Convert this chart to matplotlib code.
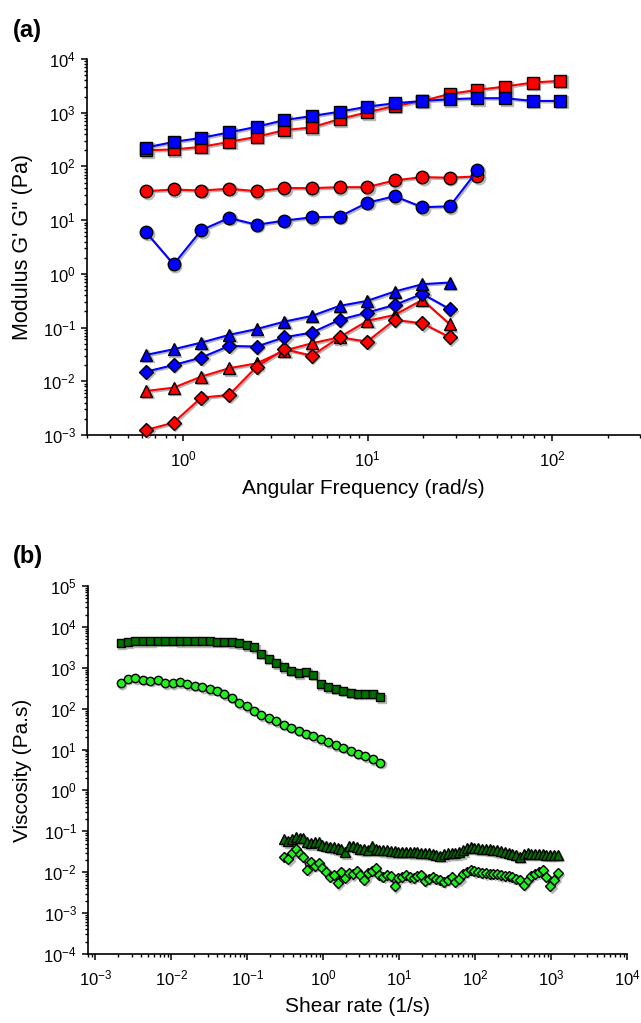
import matplotlib
matplotlib.use("Agg")
import matplotlib.pyplot as plt
import matplotlib.ticker as mticker
import matplotlib.transforms as mtrans

plt.rcParams['font.family'] = ['Liberation Sans', 'DejaVu Sans']
plt.rcParams['mathtext.fontset'] = 'custom'
plt.rcParams['mathtext.rm'] = 'Liberation Sans'

# ---------------- Panel (a) data ----------------
freq = [0.628, 0.885, 1.25, 1.77, 2.5, 3.53, 4.98, 7.03, 9.93, 14.0, 19.8, 27.9, 39.4, 55.7, 78.6, 111.0]

red_sq = [200, 207, 231, 286, 356, 474, 533, 762, 1016, 1334, 1656, 2239, 2661, 3070, 3648, 3926]
blue_sq = [225, 286, 340, 430, 547, 730, 867, 1045, 1294, 1500, 1656, 1782, 1862, 1862, 1656, 1656]
red_ci = [34.6, 37.2, 35.6, 38.4, 34.6, 39.5, 39.5, 41.1, 41.1, 55.0, 63.2, 61.7, 65.3]
blue_ci = [5.9, 1.5, 6.5, 11.0, 8.2, 9.8, 11.3, 11.6, 21.0, 27.9, 17.4, 18.1, 84.5]
blue_tri = [0.031, 0.0395, 0.0525, 0.073, 0.094, 0.129, 0.165, 0.253, 0.314, 0.469, 0.642, 0.69]
blue_dia = [0.0151, 0.0201, 0.0276, 0.0455, 0.0443, 0.066, 0.0807, 0.139, 0.19, 0.264, 0.424, 0.22]
red_tri = [0.0066, 0.0076, 0.0122, 0.0175, 0.0216, 0.0373, 0.051, 0.066, 0.133, 0.172, 0.328, 0.115]
red_dia = [0.00124, 0.0017, 0.00496, 0.00556, 0.0188, 0.0395, 0.030, 0.066, 0.0548, 0.139, 0.12, 0.066]

# ---------------- Panel (b) data ----------------
rate_low = [0.00215, 0.00269, 0.00337, 0.00422, 0.00528, 0.00661, 0.00828, 0.01038, 0.0130, 0.01626,
            0.0204, 0.0255, 0.0319, 0.0400, 0.0501, 0.0627, 0.0785, 0.0982, 0.123, 0.154,
            0.193, 0.242, 0.303, 0.379, 0.474, 0.594, 0.743, 0.931, 1.167, 1.459,
            1.828, 2.291, 2.864, 3.589, 4.498, 5.636]
visc_sq = [3970, 4200, 4446, 4446, 4446, 4600, 4600, 4600, 4446, 4446,
           4446, 4446, 4446, 4276, 4276, 4200, 3970, 3606, 3170, 2175,
           1671, 1288, 1028, 851, 733, 789, 667, 394, 333, 303,
           271, 247, 229, 229, 229, 190]
visc_ci = [417, 532, 552, 503, 484, 503, 417, 417, 441, 394,
           366, 333, 298, 276, 225, 186, 136, 116, 88, 70,
           58, 49, 40.7, 33.9, 28.8, 24.5, 20.9, 17.8, 15.1, 12.9,
           11.0, 9.3, 7.9, 6.8, 5.75, 4.7]

rate_high = [0.309, 0.347, 0.389, 0.437, 0.490, 0.550, 0.617, 0.692, 0.776, 0.871,
             0.977, 1.096, 1.23, 1.38, 1.549, 1.738, 1.95, 2.188, 2.455, 2.754,
             3.09, 3.467, 3.89, 4.365, 4.898, 5.495, 6.166, 6.918, 7.762, 8.71,
             9.772, 10.96, 12.3, 13.8, 15.49, 17.38, 19.5, 21.88, 24.55, 27.54,
             30.9, 34.67, 38.9, 43.65, 48.98, 54.95, 61.66, 69.18, 77.62, 87.1,
             97.72, 109.6, 123.0, 138.0, 154.9, 173.8, 195.0, 218.8, 245.5, 275.4,
             309.0, 346.7, 389.0, 436.5, 489.8, 549.5, 616.6, 691.8, 776.2, 871.0,
             977.2, 1096.0, 1230.0]
visc_tri = [0.064, 0.058, 0.064, 0.071, 0.070, 0.067, 0.054, 0.051, 0.054, 0.055,
            0.047, 0.044, 0.042, 0.041, 0.0385, 0.036, 0.031, 0.044, 0.044, 0.041,
            0.037, 0.036, 0.035, 0.044, 0.036, 0.035, 0.034, 0.034, 0.033, 0.0325,
            0.032, 0.032, 0.032, 0.032, 0.031, 0.0305, 0.030, 0.0297, 0.029, 0.028,
            0.027, 0.025, 0.0275, 0.029, 0.029, 0.029, 0.0305, 0.034, 0.040, 0.042,
            0.040, 0.039, 0.038, 0.037, 0.036, 0.0355, 0.034, 0.033, 0.032, 0.030,
            0.028, 0.0265, 0.024, 0.028, 0.029, 0.0285, 0.028, 0.028, 0.028, 0.027,
            0.027, 0.027, 0.0265]
visc_dia = [0.0241, 0.021, 0.029, 0.037, 0.028, 0.023, 0.0114, 0.0175, 0.0143, 0.0172,
            0.013, 0.0102, 0.0078, 0.0086, 0.0054, 0.0104, 0.0074, 0.0094, 0.0089, 0.0110,
            0.0086, 0.0065, 0.0094, 0.0110, 0.0125, 0.0085, 0.0078, 0.0085, 0.0080, 0.0046,
            0.0071, 0.0078, 0.0085, 0.0075, 0.0074, 0.0081, 0.0086, 0.0061, 0.0069, 0.0075,
            0.0069, 0.0063, 0.0059, 0.0065, 0.0078, 0.0059, 0.0067, 0.0091, 0.0104, 0.0114,
            0.0106, 0.0104, 0.0098, 0.0094, 0.0093, 0.0091, 0.0088, 0.0085, 0.0083, 0.0080,
            0.0075, 0.0070, 0.0065, 0.0049, 0.0065, 0.0081, 0.0091, 0.0100, 0.0114, 0.0075,
            0.0046, 0.0065, 0.0094]

RED = '#FF0000'
BLUE = '#0000FF'
DKGREEN = '#007000'
LTGREEN = '#22EE22'

fig = plt.figure(figsize=(6.41, 10.23), dpi=100)
axa = fig.add_axes([87/641, 1-435/1023, 553/641, 376/1023])
axb = fig.add_axes([88/641, 1-954/1023, 539/641, 368/1023])


def plot_series(ax, x, y, color, marker, ms, lc=None, lw=1.5, mew=1.0):
    n = len(y)
    shadow = mtrans.offset_copy(ax.transData, fig=fig, x=1.5, y=-1.5, units='dots')
    ax.plot(x[:n], y, color='#b8b8b8', marker=marker, ms=ms, mec='#b8b8b8', mfc='#b8b8b8',
            lw=lw, transform=shadow, zorder=2, clip_on=False)
    ax.plot(x[:n], y, color=lc if lc else color, marker=marker, ms=ms, mfc=color, mec='black',
            mew=mew, lw=lw, zorder=3, clip_on=False)


plot_series(axa, freq, red_sq, RED, 's', 8)
plot_series(axa, freq, blue_sq, BLUE, 's', 8)
plot_series(axa, freq, red_ci, RED, 'o', 9)
plot_series(axa, freq, blue_ci, BLUE, 'o', 9)
plot_series(axa, freq, red_tri, RED, '^', 9)
plot_series(axa, freq, red_dia, RED, 'D', 7)
plot_series(axa, freq, blue_dia, BLUE, 'D', 7)
plot_series(axa, freq, blue_tri, BLUE, '^', 9)

plot_series(axb, rate_low, visc_sq, DKGREEN, 's', 5.5, lc='black', lw=1.0)
plot_series(axb, rate_low, visc_ci, LTGREEN, 'o', 6, lc='black', lw=1.0)
plot_series(axb, rate_high, visc_tri, DKGREEN, '^', 6.5, lc='black', lw=1.0)
plot_series(axb, rate_high, visc_dia, LTGREEN, 'D', 5, lc='black', lw=1.0)

for ax in (axa, axb):
    ax.set_xscale('log')
    ax.set_yscale('log')
    for s in ('top', 'right'):
        ax.spines[s].set_visible(False)
    for s in ('left', 'bottom'):
        ax.spines[s].set_linewidth(1.2)
    for axis in (ax.xaxis, ax.yaxis):
        axis.set_major_locator(mticker.LogLocator(base=10, numticks=30))
        axis.set_minor_locator(mticker.LogLocator(base=10, subs=range(2, 10), numticks=30))
        axis.set_major_formatter(mticker.LogFormatterMathtext())
        axis.set_minor_formatter(mticker.NullFormatter())
    ax.tick_params(which='major', direction='out', length=4.5, width=1.1, labelsize=12)
    ax.tick_params(which='minor', direction='out', length=2.5, width=1.0)
    ax.tick_params(axis='x', pad=6)

axa.set_xlim(0.3, 300)
axa.set_ylim(1e-3, 1e4)
axb.set_xlim(8e-4, 1e4)
axb.set_ylim(1e-4, 1e5)

axa.set_xlabel('Angular Frequency (rad/s)', fontsize=15, labelpad=7)
axa.set_ylabel("Modulus G' G'' (Pa)", fontsize=15.5, va='center')
axa.yaxis.set_label_coords((22 - 87) / 553, 0.5)
axb.set_xlabel('Shear rate (1/s)', fontsize=15, labelpad=6)
axb.set_ylabel('Viscosity (Pa.s)', fontsize=15, va='center')
axb.yaxis.set_label_coords((23 - 88) / 539, 0.5)

fig.text(13/641, 1-30/1023, '(a)', fontsize=17, fontweight='bold', va='center', ha='left')
fig.text(13/641, 1-556/1023, '(b)', fontsize=17, fontweight='bold', va='center', ha='left')

fig.savefig('out.png', dpi=100)
